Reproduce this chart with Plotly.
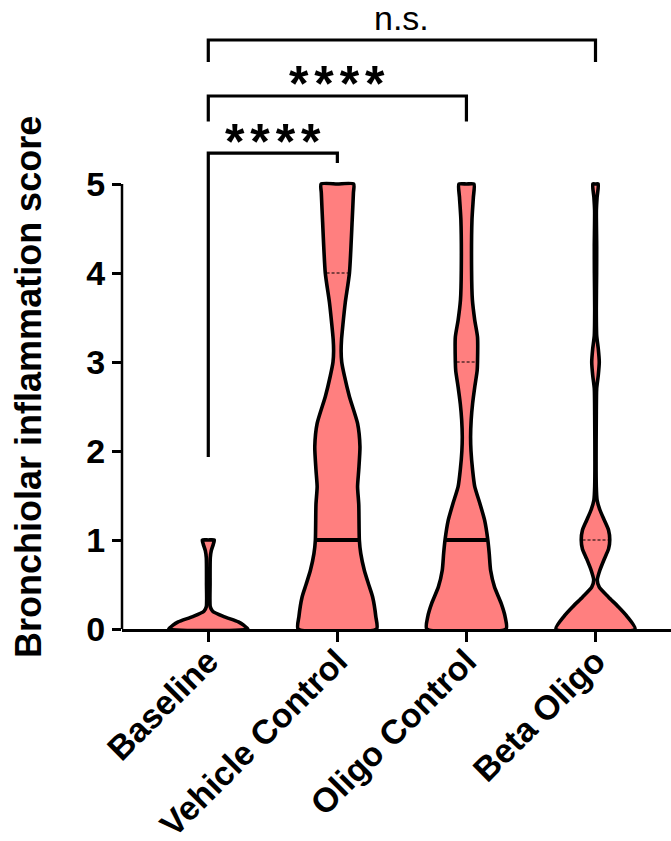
import numpy as np
import plotly.graph_objects as go

# ---------------- data ----------------
categories = ["Baseline", "Vehicle Control", "Oligo Control", "Beta Oligo"]

# violin density profiles: score level -> relative half-width (max = 1)
baseline_y = [0.0, 0.04, 0.08, 0.14, 0.20, 0.25, 0.50, 0.80, 0.88, 0.95, 1.0]
baseline_d = [1.0, 0.90, 0.76, 0.39, 0.11, 0.05, 0.045, 0.05, 0.075, 0.125, 0.15]

vehicle_y = [0.0, 0.14, 0.36, 0.50, 0.66, 0.85, 1.0, 1.4, 1.6, 1.79, 2.05, 2.31, 2.61, 2.84,
             3.0, 3.12, 3.25, 3.42, 3.67, 4.0, 4.6, 4.9, 5.0]
vehicle_d = [0.99, 0.97, 0.89, 0.79, 0.68, 0.59, 0.555, 0.54, 0.51, 0.54, 0.57, 0.51, 0.305, 0.18,
             0.11, 0.095, 0.105, 0.14, 0.20, 0.305, 0.375, 0.405, 0.41]

oligo_y = [0.0, 0.14, 0.29, 0.47, 0.66, 0.85, 1.0, 1.22, 1.41, 1.6, 1.79, 2.0, 2.16, 2.35, 2.53,
           2.72, 2.9, 3.0, 3.28, 3.47, 3.7, 4.03, 4.6, 4.85, 5.0]
oligo_d = [1.0, 0.975, 0.875, 0.71, 0.61, 0.575, 0.54, 0.46, 0.34, 0.21, 0.155, 0.115, 0.105, 0.12,
           0.155, 0.21, 0.27, 0.28, 0.28, 0.21, 0.15, 0.13, 0.14, 0.175, 0.19]

beta_y = [0.0, 0.14, 0.25, 0.36, 0.47, 0.55, 0.66, 0.79, 0.9, 1.0, 1.11, 1.22, 1.34, 1.45, 1.6,
          2.4, 2.7, 2.85, 3.0, 3.15, 3.3, 3.6, 4.0, 4.3, 4.7, 4.85, 5.0]
beta_d = [1.0, 0.80, 0.575, 0.325, 0.095, 0.045, 0.11, 0.225, 0.33, 0.36, 0.33, 0.225, 0.11, 0.04, 0.02,
          0.02, 0.03, 0.07, 0.095, 0.07, 0.03, 0.02, 0.028, 0.03, 0.022, 0.04, 0.068]

profiles_y = [baseline_y, vehicle_y, oligo_y, beta_y]
profiles_d = [baseline_d, vehicle_d, oligo_d, beta_d]

medians = [0, 1, 1, 0]
quartiles = [[], [4], [3], [1]]   # visible dashed quartile lines

y_ticks = [0, 1, 2, 3, 4, 5]

comparisons = [(0, 1, "****"), (0, 2, "****"), (0, 3, "n.s.")]

# ---------------- style ----------------
FONT = "Liberation Sans, Arial, Helvetica, sans-serif"
FILL = "#FF7F7F"
HALF = 0.307          # max half-width of a violin in category units
X_RANGE = [-0.6686, 3.585]
Y_RANGE = [0, 7.0674]

fig = go.Figure()

for i, (ys, ds) in enumerate(zip(profiles_y, profiles_d)):
    ys = np.asarray(ys, float)
    hw = np.asarray(ds, float) * HALF
    xs = np.concatenate([i + hw, [i], (i - hw)[::-1], [i + hw[0]]])
    yy = np.concatenate([ys, [ys[-1]], ys[::-1], [ys[0]]])
    fig.add_trace(go.Scatter(x=xs, y=yy, mode="lines", fill="toself", fillcolor=FILL,
                             line=dict(color="black", width=3.6, shape="spline", smoothing=0.6),
                             hoverinfo="skip", showlegend=False))
    # median
    m = medians[i]
    if m > 0:
        w = np.interp(m, ys, hw)
        fig.add_trace(go.Scatter(x=[i - w, i + w], y=[m, m], mode="lines",
                                 line=dict(color="black", width=3.8),
                                 hoverinfo="skip", showlegend=False))
    for q in quartiles[i]:
        w = np.interp(q, ys, hw) - 0.01
        fig.add_trace(go.Scatter(x=[i - w, i + w], y=[q, q], mode="lines",
                                 line=dict(color="black", width=1.2, dash="3px,2px"),
                                 hoverinfo="skip", showlegend=False))

# significance brackets: (top, left-leg bottom, right-leg bottom, label y)
bracket_pos = [(5.348, 1.933, 5.236, 5.47), (5.989, 5.702, 5.702, 6.127), (6.618, 6.371, 6.371, 6.86)]
gap = "<span style='font-size:21px'> </span>"
for (a, b, label), (top, lb, rb, ty) in zip(comparisons, bracket_pos):
    fig.add_trace(go.Scatter(x=[a, a, b, b], y=[lb, top, top, rb], mode="lines",
                             line=dict(color="black", width=3.2),
                             hoverinfo="skip", showlegend=False))
    if label == "n.s.":
        fig.add_annotation(x=(a + b) / 2, y=ty, text=label, showarrow=False,
                           xanchor="center", yanchor="middle",
                           font=dict(family=FONT, size=34, color="black"))
    else:
        fig.add_annotation(x=(a + b) / 2, y=ty, text=gap.join(label), showarrow=False,
                           xanchor="center", yanchor="middle",
                           font=dict(family=FONT, size=50, color="black", weight="bold"))

# y axis line (only over the 0-5 score range)
fig.add_shape(type="line", xref="paper", yref="y", x0=0, x1=0, y0=0, y1=5,
              line=dict(color="black", width=2.5))

fig.add_annotation(text="Bronchiolar inflammation score", xref="paper", yref="y",
                   x=(29 - 122) / 549, y=2.72, textangle=-90, showarrow=False,
                   xanchor="center", yanchor="middle",
                   font=dict(family=FONT, size=36, color="black", weight="bold"))

fig.update_layout(
    width=671, height=841,
    margin=dict(l=122, r=0, t=0, b=212, autoexpand=False),
    paper_bgcolor="white", plot_bgcolor="white",
    xaxis=dict(range=X_RANGE, tickvals=list(range(len(categories))), ticktext=categories,
               tickangle=-45, ticks="outside", ticklen=10, tickwidth=2.5, tickcolor="black",
               ticklabelstandoff=-14,
               showline=True, linecolor="black", linewidth=2.5, showgrid=False, zeroline=False,
               tickfont=dict(family=FONT, size=34, color="black", weight="bold")),
    yaxis=dict(range=Y_RANGE, tickvals=y_ticks, ticks="outside", ticklen=9, tickwidth=2.5,
               tickcolor="black", showline=False, showgrid=False, zeroline=False,
               tickfont=dict(family=FONT, size=34, color="black", weight="bold")),
)

fig.write_html("out.html")
